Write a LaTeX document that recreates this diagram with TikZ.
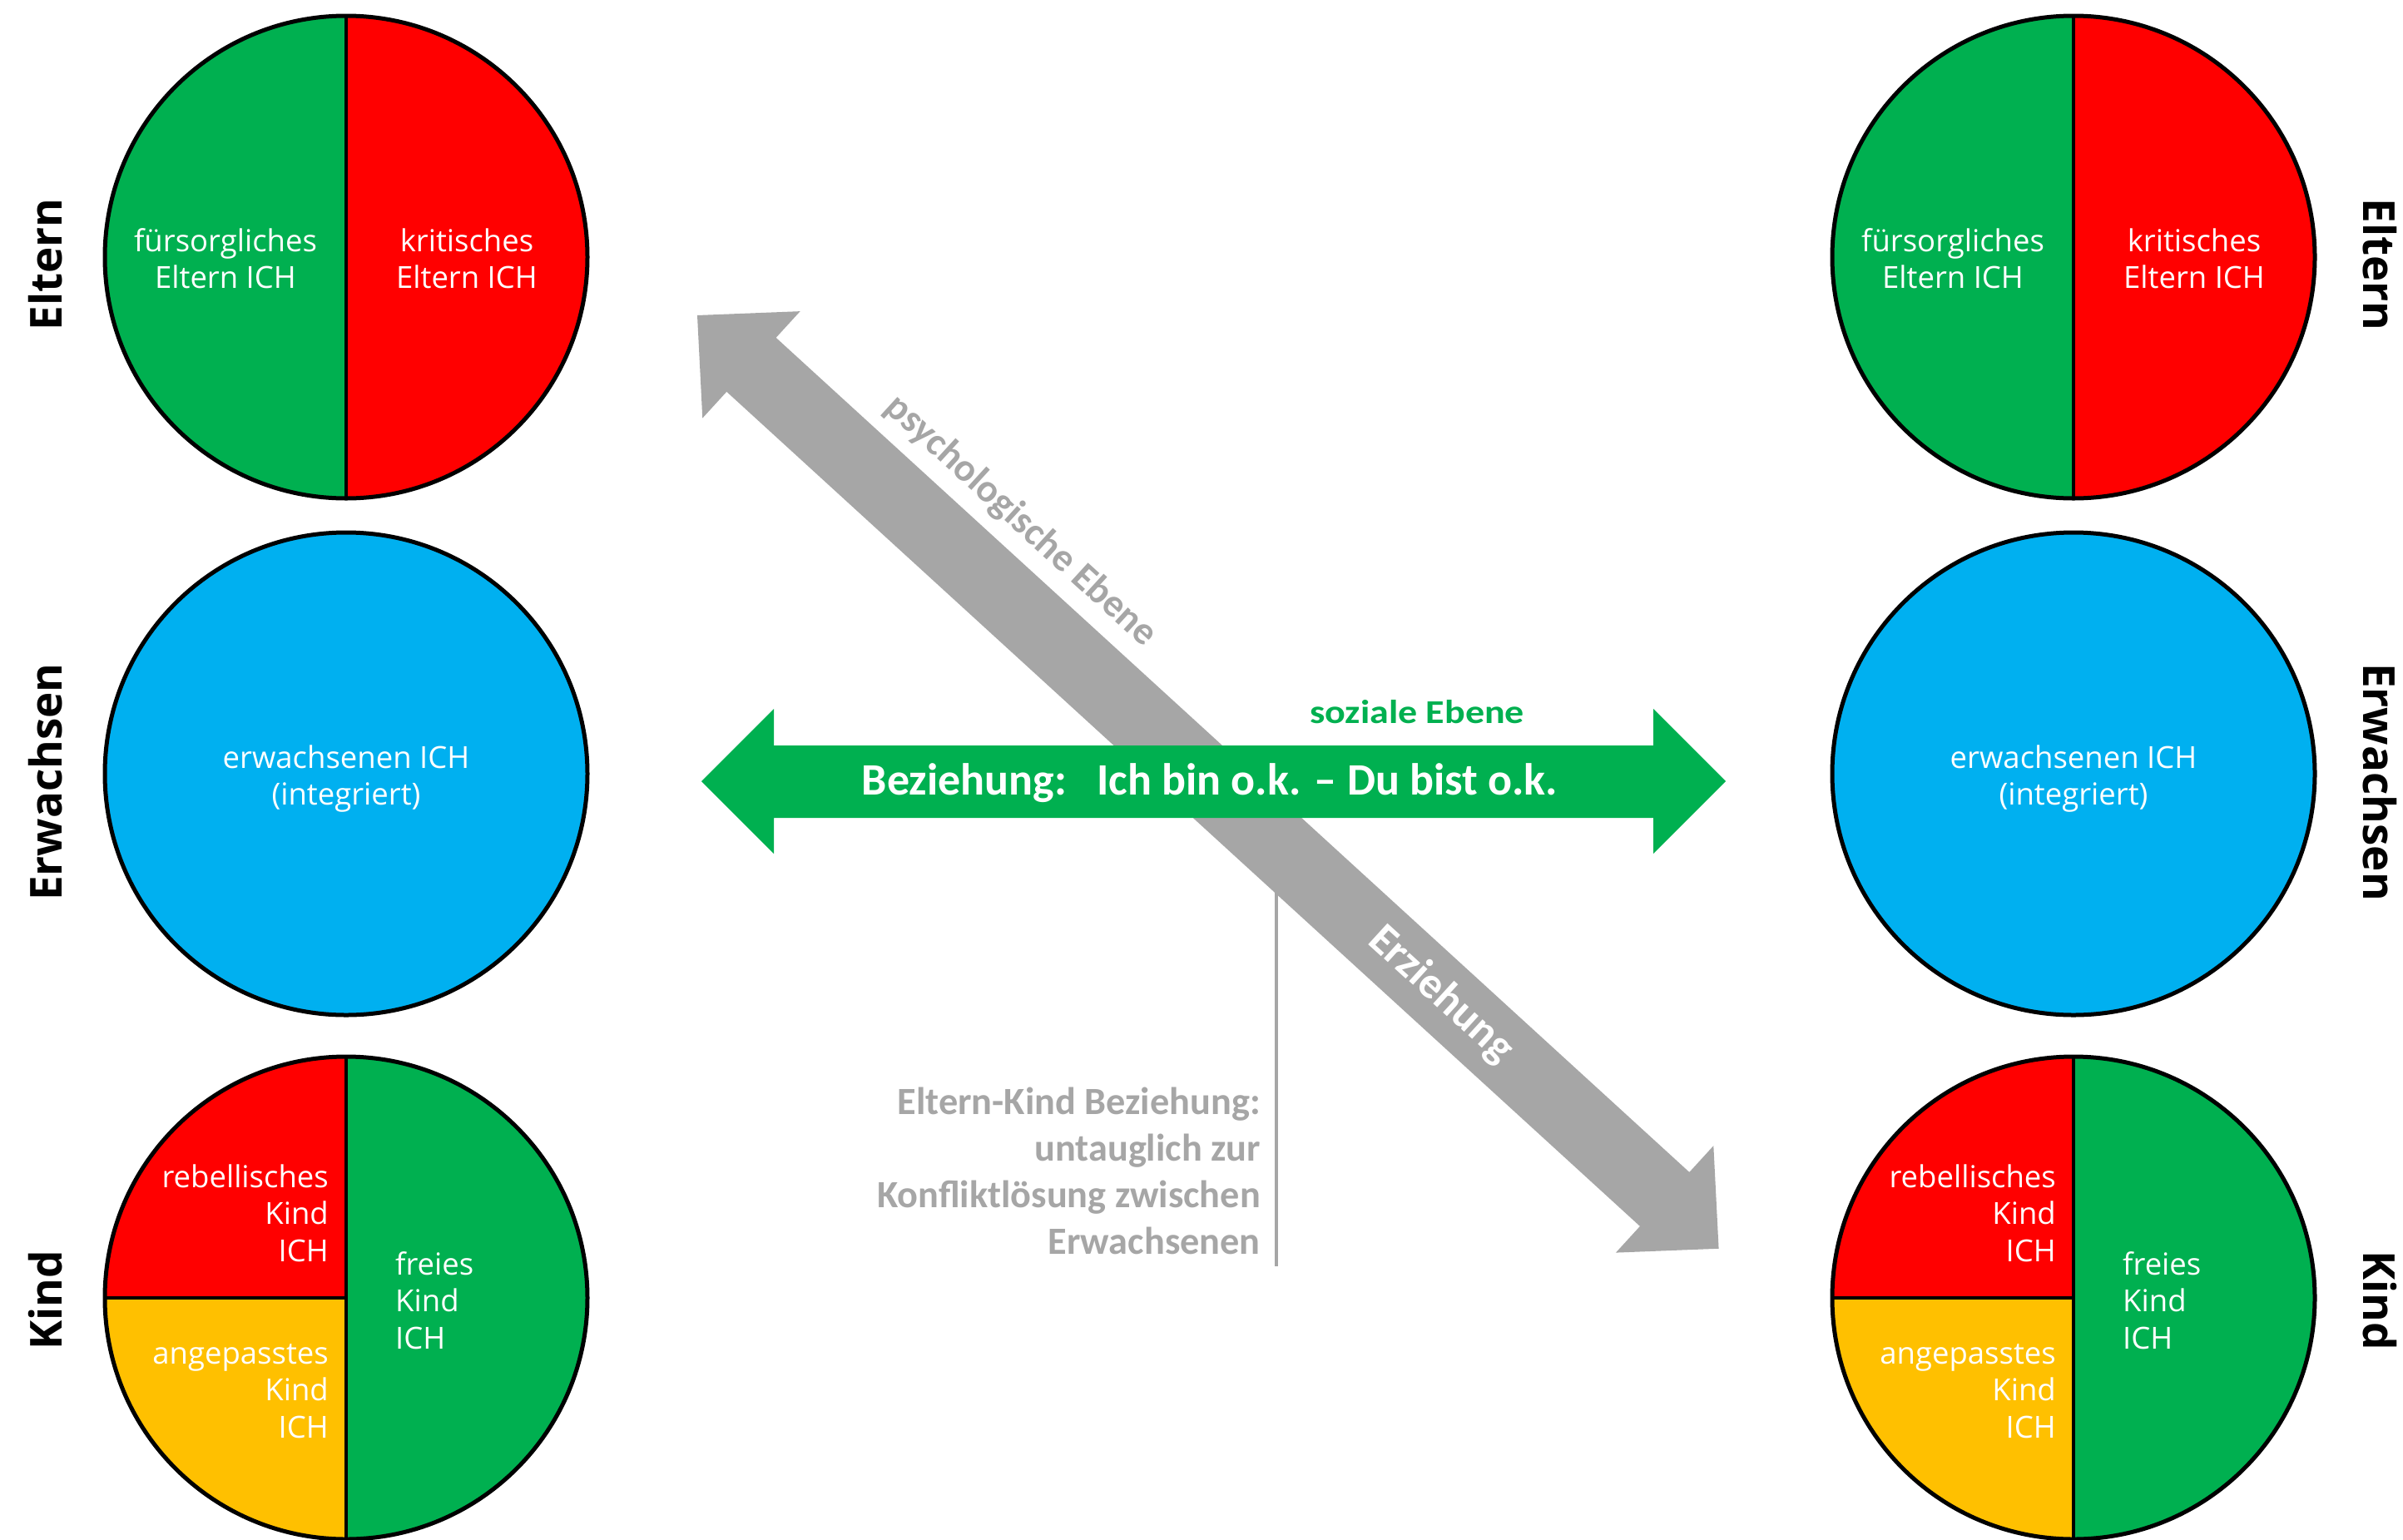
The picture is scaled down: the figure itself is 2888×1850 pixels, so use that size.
\documentclass[tikz,border=0pt]{standalone}
\usepackage{fontspec}
\setmainfont{Open Sans}
\newfontfamily\calfont{Carlito}
\usetikzlibrary{calc}
\definecolor{egreen}{HTML}{00B050}
\definecolor{ered}{HTML}{FF0000}
\definecolor{eblue}{HTML}{00B0F0}
\definecolor{eyellow}{HTML}{FFC000}
\definecolor{egrey}{HTML}{A6A6A6}
% stacked lines whose baseline is the first line
\newcommand\txtblock[2]{\begin{tabular}[t]{@{}#1@{}}#2\end{tabular}}
\begin{document}
\begin{tikzpicture}[x=1pt,y=-1pt,
  ego/.style={circle, minimum size=580pt, inner sep=0pt, draw=black, line width=5pt},
  divider/.style={draw=black, line width=4pt},
  halves/.style 2 args={path picture={
    \fill[#1] (path picture bounding box.north west) rectangle (path picture bounding box.south);
    \fill[#2] (path picture bounding box.north) rectangle (path picture bounding box.south east);
    \draw[divider] (path picture bounding box.north) -- (path picture bounding box.south);}},
  kindsplit/.style={path picture={
    \fill[ered] (path picture bounding box.north west) rectangle (path picture bounding box.center);
    \fill[eyellow] (path picture bounding box.west) rectangle (path picture bounding box.south);
    \fill[egreen] (path picture bounding box.north) rectangle (path picture bounding box.south east);
    \draw[divider] (path picture bounding box.north) -- (path picture bounding box.south);
    \draw[divider] (path picture bounding box.west) -- (path picture bounding box.center);}},
  inlbl/.style={text=white, inner sep=0pt, font=\fontsize{36.5}{44.5}\selectfont},
  side/.style={inner sep=0pt, anchor=base, font=\fontsize{53}{60}\selectfont\bfseries},
  calbold/.style={inner sep=0pt, font=\calfont\bfseries\fontsize{#1}{#1}\selectfont},
]
\fill[white] (0,0) rectangle (2888,1850);
\useasboundingbox (0,0) rectangle (2888,1850);

% ---------- grey diagonal double arrow ----------
\begin{scope}[shift={(838,379)}, rotate=-42.42]
  \fill[egrey] (0,0) -- (88,-87) -- (88,-44) -- (1575,-44) -- (1575,-87) -- (1663,0)
    -- (1575,87) -- (1575,44) -- (88,44) -- (88,87) -- cycle;
  \node[calbold=47, text=egrey, transform shape, anchor=base] (psy) at (454,-67) {psychologische Ebene};
  \node[calbold=53, text=white, transform shape] (erz) at (1211,0) {Erziehung};
\end{scope}

% ---------- green double arrow ----------
\fill[egreen] (843,939) -- (930,852) -- (930,896) -- (1987,896) -- (1987,852) -- (2074,939)
  -- (1987,1026) -- (1987,983) -- (930,983) -- (930,1026) -- cycle;
\node[calbold=54, text=white, anchor=base] (bez) at (1454,955)
  {Beziehung:\hspace{36pt}Ich bin o.k. – Du bist o.k.};
\node[calbold=40, text=egreen, anchor=base west] (soz) at (1574,869)
  {\scalebox{1.15}[1]{soziale Ebene}};

% ---------- annotation with marker line ----------
\coordinate (vtop) at (1534,1068);
\coordinate (vbot) at (1534,1522);
\draw[egrey, line width=4pt] (vtop) -- (vbot);
\node[inner sep=0pt, text=egrey, anchor=base east, font=\calfont\bfseries\fontsize{46.3}{56}\selectfont] (ekb) at (1515,1339)
  {\txtblock{r}{Eltern-Kind Beziehung:\\untauglich zur\\Konfliktlösung zwischen\\Erwachsenen}};

% ---------- ego states, both persons ----------
\foreach \side/\cx in {L/416, R/2492} {
  \node[ego, halves={egreen}{ered}] (el\side) at (\cx,309) {};
  \node[ego, fill=eblue] (er\side) at (\cx,930) {};
  \node[ego, kindsplit] (ki\side) at (\cx,1560) {};
  \node[inlbl, anchor=base] (elf\side) at ($(el\side)+(-145,-7)$) {\txtblock{c}{fürsorgliches\\Eltern ICH}};
  \node[inlbl, anchor=base] (elk\side) at ($(el\side)+(145,-7)$) {\txtblock{c}{kritisches\\Eltern ICH}};
  \node[inlbl, anchor=base] (erw\side) at ($(er\side)+(0,-7)$) {\txtblock{c}{erwachsenen ICH\\(integriert)}};
  \node[inlbl, anchor=base east] (kir\side) at ($(ki\side)+(-21,-133)$) {\txtblock{r}{rebellisches\\Kind\\ICH}};
  \node[inlbl, anchor=base east] (kia\side) at ($(ki\side)+(-21,79)$) {\txtblock{r}{angepasstes\\Kind\\ICH}};
  \node[inlbl, anchor=base west] (kif\side) at ($(ki\side)+(59,-28)$) {\txtblock{l}{freies\\Kind\\ICH}};
}

% ---------- row captions ----------
\node[side, rotate=90] (capElL) at (74,318) {Eltern};
\node[side, rotate=90] (capErL) at (74,940) {Erwachsen};
\node[side, rotate=90] (capKiL) at (74,1563) {Kind};
\node[side, rotate=-90] (capElR) at (2840,318) {Eltern};
\node[side, rotate=-90] (capErR) at (2840,940) {Erwachsen};
\node[side, rotate=-90] (capKiR) at (2840,1563) {Kind};
\end{tikzpicture}
\end{document}
